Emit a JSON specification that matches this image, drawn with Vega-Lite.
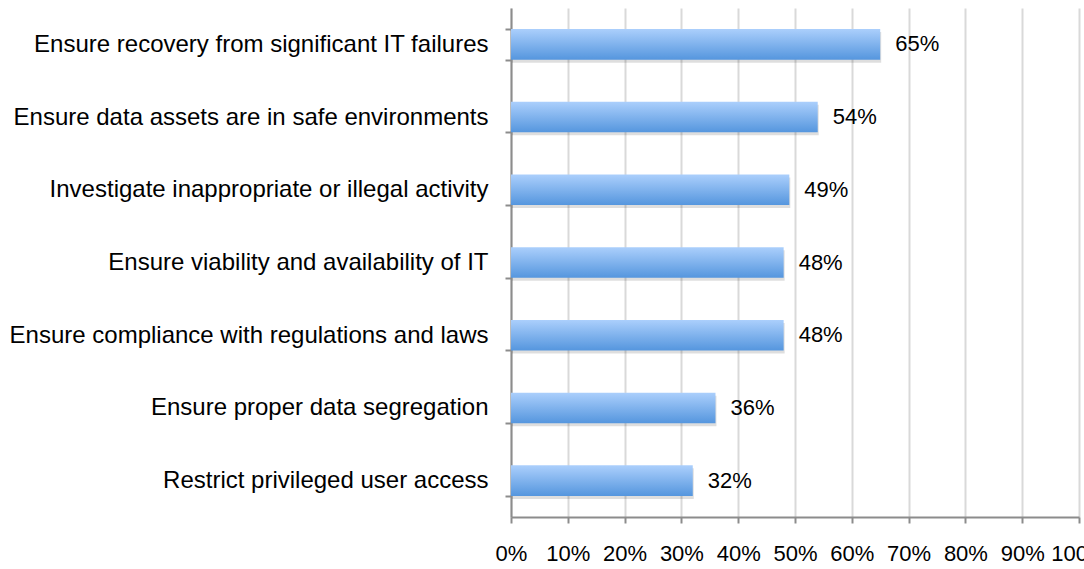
{
  "$schema": "https://vega.github.io/schema/vega-lite/v6.json",
  "width": 568,
  "height": 509,
  "autosize": "none",
  "padding": {"left": 511, "top": 8, "right": 5, "bottom": 52},
  "background": "white",
  "config": {
    "view": {"stroke": null},
    "font": "Liberation Sans"
  },
  "data": {
    "values": [
      {"task": "Ensure recovery from significant IT failures", "pct": 0.65},
      {"task": "Ensure data assets are in safe environments", "pct": 0.54},
      {"task": "Investigate inappropriate or illegal activity", "pct": 0.49},
      {"task": "Ensure viability and availability of IT", "pct": 0.48},
      {"task": "Ensure compliance with regulations and laws", "pct": 0.48},
      {"task": "Ensure proper data segregation", "pct": 0.36},
      {"task": "Restrict privileged user access", "pct": 0.32}
    ]
  },
  "encoding": {
    "y": {
      "field": "task", "type": "nominal", "sort": null,
      "scale": {"paddingInner": 0.58, "paddingOuter": 0.29},
      "axis": {
        "title": null, "domainColor": "#8c8c8c", "domainWidth": 2,
        "tickColor": "#8c8c8c", "tickWidth": 2, "tickSize": 6, "tickBand": "extent",
        "labelFontSize": 24, "labelColor": "#000", "labelPadding": 17, "labelLimit": 600,
        "grid": false
      }
    },
    "x": {
      "field": "pct", "type": "quantitative", "scale": {"domain": [0, 1]},
      "axis": {
        "title": null, "format": ".0%", "values": [0, 0.1, 0.2, 0.3, 0.4, 0.5, 0.6, 0.7, 0.8, 0.9, 1],
        "grid": true, "gridColor": "#d9d9d9", "gridWidth": 2,
        "domainColor": "#8c8c8c", "domainWidth": 2,
        "tickColor": "#8c8c8c", "tickWidth": 2, "tickSize": 6,
        "labelFontSize": 22, "labelColor": "#000", "labelPadding": 20,
        "labelFlush": false, "labelOverlap": false, "labelBound": false
      }
    }
  },
  "layer": [
    {
      "mark": {"type": "bar", "color": "#000", "opacity": 0.13, "xOffset": 1, "yOffset": 3}
    },
    {
      "mark": {
        "type": "bar",
        "color": {
          "gradient": "linear", "x1": 0, "y1": 0, "x2": 0, "y2": 1,
          "stops": [{"offset": 0, "color": "#abcffc"}, {"offset": 1, "color": "#5596de"}]
        }
      }
    },
    {
      "mark": {"type": "text", "align": "left", "baseline": "middle", "dx": 15, "fontSize": 22, "color": "#000"},
      "encoding": {
        "text": {"field": "pct", "type": "quantitative", "format": ".0%"}
      }
    }
  ]
}
